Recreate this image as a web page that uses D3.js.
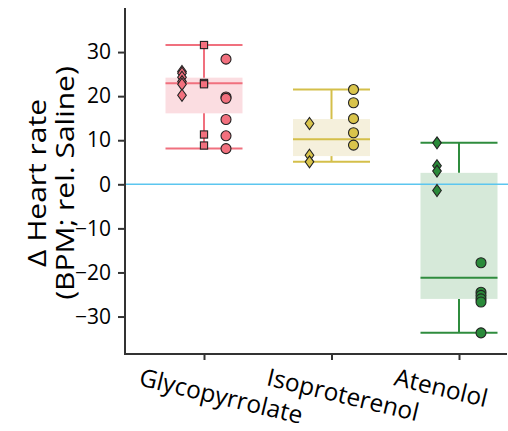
<!DOCTYPE html>
<html>
<head>
<meta charset="utf-8">
<script src="https://cdn.jsdelivr.net/npm/d3@7"></script>
<style>
  html, body { margin: 0; padding: 0; background: #fff; }
  svg { display: block; }
  text { font-family: "Open Sans", sans-serif; fill: #000; }
</style>
</head>
<body>
<svg id="chart" width="508" height="431"></svg>
<script>
// ---- Data ----
const categories = ["Glycopyrrolate", "Isoproterenol", "Atenolol"];
const boxLow      = [16.1, 6.4, -26.0];
const boxHigh     = [24.2, 14.8, 2.6];
const medians     = [22.9, 10.2, -21.2];
const whiskerLow  = [8.1, 5.1, -33.7];
const whiskerHigh = [31.6, 21.5, 9.4];
const diamondVals = [
  [25.6, 25.2, 24.3, 23.3, 22.7, 20.2],
  [13.8, 6.6, 5.1],
  [9.4, 4.2, 3.0, -1.4]
];
const squareVals = [
  [31.6, 23.0, 22.7, 11.3, 8.8],
  [],
  []
];
const circleVals = [
  [28.4, 19.8, 19.5, 14.7, 11.0, 8.1],
  [21.5, 18.5, 14.9, 11.7, 8.9],
  [-17.8, -24.5, -25.2, -26.0, -26.7, -33.7]
];
const yTicks = [-30, -20, -10, 0, 10, 20, 30];

// ---- Styles ----
const lineColors  = ["#f0707e", "#d4bf4a", "#2f8c3e"];
const fillColors  = ["#fbdde1", "#f5f0dc", "#d6e9d9"];
const pointColors = ["#f2707e", "#d9c44c", "#2a8a3a"];

const svg = d3.select("#chart");
const axisLeft = 125, axisBottom = 354, axisTop = 8, axisRight = 507;

const y = d3.scaleLinear().domain([-38.5, 40]).range([axisBottom, axisTop]);
const x = d3.scalePoint().domain(categories).range([204, 459]);

const boxHalf = 38.5;
const offsets = { diamond: -22, square: 0, circle: 22 };

// Boxes
const g = svg.append("g");
categories.forEach((c, i) => {
  const cx = x(c);
  const col = lineColors[i];
  g.append("rect")
    .attr("x", cx - boxHalf).attr("width", boxHalf * 2)
    .attr("y", y(boxHigh[i])).attr("height", y(boxLow[i]) - y(boxHigh[i]))
    .attr("fill", fillColors[i]);
  g.append("line").attr("x1", cx).attr("x2", cx)
    .attr("y1", y(whiskerHigh[i])).attr("y2", y(boxHigh[i]))
    .attr("stroke", col).attr("stroke-width", 2);
  g.append("line").attr("x1", cx).attr("x2", cx)
    .attr("y1", y(boxLow[i])).attr("y2", y(whiskerLow[i]))
    .attr("stroke", col).attr("stroke-width", 2);
  [whiskerHigh[i], whiskerLow[i], medians[i]].forEach(v => {
    g.append("line").attr("x1", cx - boxHalf).attr("x2", cx + boxHalf)
      .attr("y1", y(v)).attr("y2", y(v))
      .attr("stroke", col).attr("stroke-width", 2);
  });
});

// Zero line
svg.append("line")
  .attr("x1", axisLeft).attr("x2", 508)
  .attr("y1", y(0)).attr("y2", y(0))
  .attr("stroke", "#5cc6ef").attr("stroke-width", 1.6);

// Points
const pts = svg.append("g");
categories.forEach((c, i) => {
  const cx = x(c);
  diamondVals[i].forEach(v => {
    const px = cx + offsets.diamond, py = y(v);
    pts.append("path")
      .attr("d", `M${px},${py - 6}L${px + 4.3},${py}L${px},${py + 6}L${px - 4.3},${py}Z`)
      .attr("fill", pointColors[i]).attr("stroke", "#222").attr("stroke-width", 1.1);
  });
  squareVals[i].forEach(v => {
    pts.append("rect")
      .attr("x", cx + offsets.square - 3.6).attr("y", y(v) - 3.6)
      .attr("width", 7.2).attr("height", 7.2)
      .attr("fill", pointColors[i]).attr("stroke", "#222").attr("stroke-width", 1.1);
  });
  circleVals[i].forEach(v => {
    pts.append("circle")
      .attr("cx", cx + offsets.circle).attr("cy", y(v)).attr("r", 5)
      .attr("fill", pointColors[i]).attr("stroke", "#222").attr("stroke-width", 1.1);
  });
});

// Axes
const yAxis = d3.axisLeft(y).tickValues(yTicks).tickSize(7).tickPadding(7).tickSizeOuter(0);
const yg = svg.append("g").attr("transform", `translate(${axisLeft},0)`).call(yAxis);
yg.select(".domain").remove();
yg.append("line").attr("x1", 0).attr("x2", 0).attr("y1", axisTop).attr("y2", axisBottom + 1)
  .attr("stroke", "#333").attr("stroke-width", 2);
yg.selectAll(".tick line").attr("stroke", "#333").attr("stroke-width", 2);
yg.selectAll(".tick text").attr("font-size", 21).attr("font-family", "'Open Sans', sans-serif").attr("fill", "#000");

const xAxis = d3.axisBottom(x).tickSize(6).tickFormat("");
const xg = svg.append("g").attr("transform", `translate(0,${axisBottom})`).call(xAxis);
xg.select(".domain").remove();
xg.append("line").attr("x1", axisLeft - 1).attr("x2", axisRight).attr("y1", 0).attr("y2", 0)
  .attr("stroke", "#333").attr("stroke-width", 2);
xg.selectAll(".tick line").attr("stroke", "#333").attr("stroke-width", 2);

// Category labels (rotated)
categories.forEach((c, i) => {
  const tx = x(c) - 66, ty = 385;
  svg.append("text")
    .attr("x", tx).attr("y", ty)
    .attr("transform", `rotate(13.5,${tx},${ty})`)
    .attr("font-size", 24.5)
    .attr("text-anchor", "start")
    .text(c);
});

// Y axis title
const title = svg.append("text")
  .attr("transform", "translate(46,183) rotate(-90) scale(1.2,1)")
  .attr("text-anchor", "middle")
  .attr("font-size", 25);
title.append("tspan").attr("x", 0).attr("dy", 0).text("Δ Heart rate");
title.append("tspan").attr("x", 0).attr("dy", 28).text("(BPM; rel. Saline)");
</script>
</body>
</html>
